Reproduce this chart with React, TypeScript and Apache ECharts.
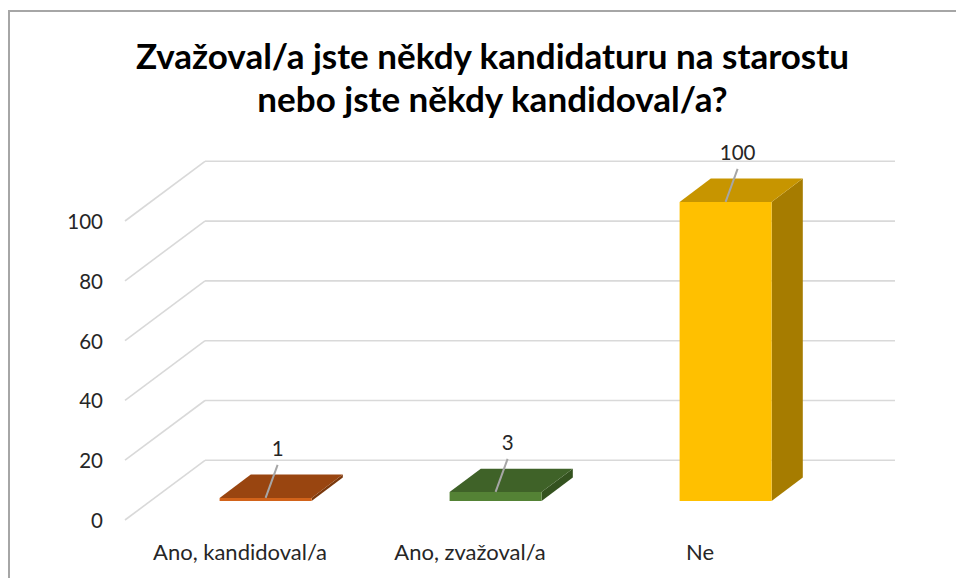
import React, { useEffect, useRef } from "react";
import * as echarts from "echarts";

const titleLines = ["Zvažoval/a jste někdy kandidaturu na starostu", "nebo jste někdy kandidoval/a?"];
const categories = ["Ano, kandidoval/a", "Ano, zvažoval/a", "Ne"];
const values = [1, 3, 100];
const yTicks = [0, 20, 40, 60, 80, 100];

// face colours per category: front, top, side
const palette = [
  { front: "#D2631A", top: "#994510", side: "#7A380C" },
  { front: "#548235", top: "#3F6228", side: "#34521F" },
  { front: "#FFC000", top: "#C79500", side: "#A67C00" },
];

const DEPTH_X = 80;
const DEPTH_Y = -59.7;
const FRONT_T = 0.32;
const BAR_T = 0.39;
const FONT = "Lato, 'Open Sans', sans-serif";

export default function App() {
  const ref = useRef<HTMLDivElement>(null);
  useEffect(() => {
    if (!ref.current) return;
    const chart = echarts.init(ref.current, undefined, { renderer: "svg" });

    const gridData = yTicks.map((v) => [0, v]);
    const barData = values.map((v, i) => [i, v]);

    const option: any = {
      animation: false,
      backgroundColor: "#ffffff",
      graphic: [
        {
          type: "rect",
          shape: { x: 9, y: 11, width: 1000, height: 620 },
          style: { fill: "none", stroke: "#A6A6A6", lineWidth: 2 },
          silent: true,
        },
        {
          type: "text",
          x: 492.5,
          y: 33,
          style: {
            text: titleLines.join("\n"),
            font: `bold 35px ${FONT}`,
            lineHeight: 43,
            fill: "#000000",
            align: "center",
            verticalAlign: "top",
          },
        },
      ],
      grid: { left: 125, right: 141, top: 221, bottom: 58 },
      xAxis: {
        type: "category",
        data: categories,
        axisLine: { show: false },
        axisTick: { show: false },
        axisLabel: {
          interval: 0,
          hideOverlap: false,
          fontSize: 22,
          color: "#262626",
          margin: 20,
          fontFamily: FONT,
        },
        splitLine: { show: false },
      },
      yAxis: {
        type: "value",
        min: 0,
        max: 100,
        interval: 20,
        axisLine: { show: false },
        axisTick: { show: false },
        axisLabel: { fontSize: 20.5, color: "#262626", margin: 22, fontFamily: FONT },
        splitLine: { show: false },
      },
      series: [
        {
          type: "custom",
          silent: true,
          z: 1,
          data: gridData,
          renderItem: (params: any, api: any) => {
            const v = api.value(1);
            const cs = params.coordSys;
            const y = api.coord([0, v])[1];
            const x0 = cs.x;
            const bx = x0 + DEPTH_X;
            const by = y + DEPTH_Y;
            return {
              type: "group",
              children: [
                {
                  type: "line",
                  shape: { x1: x0, y1: y, x2: bx, y2: by },
                  style: { stroke: "#D9D9D9", lineWidth: 1.6 },
                },
                {
                  type: "line",
                  shape: { x1: bx, y1: by, x2: bx + cs.width, y2: by },
                  style: { stroke: "#D9D9D9", lineWidth: 1.6 },
                },
              ],
            };
          },
        },
        {
          type: "custom",
          z: 2,
          data: barData,
          renderItem: (params: any, api: any) => {
            const i = api.value(0);
            const v = api.value(1);
            const c = palette[i];
            const base = api.coord([i, 0]);
            const topP = api.coord([i, v]);
            const band = api.size([1, 0])[0];
            const w = band * 0.4;
            const ox = FRONT_T * DEPTH_X;
            const oy = FRONT_T * DEPTH_Y;
            const x0 = base[0] - w / 2 + ox;
            const x1 = x0 + w;
            const yb = base[1] + oy;
            const yt = topP[1] + oy;
            const dx = BAR_T * DEPTH_X;
            const dy = BAR_T * DEPTH_Y;
            const cx = (x0 + x1) / 2;
            const lx = cx + 12;
            const ly = yt - 50;
            return {
              type: "group",
              children: [
                {
                  type: "polygon",
                  shape: { points: [[x1, yt], [x1 + dx, yt + dy], [x1 + dx, yb + dy], [x1, yb]] },
                  style: { fill: c.side },
                },
                {
                  type: "polygon",
                  shape: { points: [[x0, yt], [x0 + dx, yt + dy], [x1 + dx, yt + dy], [x1, yt]] },
                  style: { fill: c.top },
                },
                {
                  type: "polygon",
                  shape: { points: [[x0, yt], [x1, yt], [x1, yb], [x0, yb]] },
                  style: { fill: c.front },
                },
                {
                  type: "line",
                  shape: { x1: lx, y1: ly + 17, x2: cx, y2: yt },
                  style: { stroke: "#A6A6A6", lineWidth: 2 },
                },
                {
                  type: "text",
                  x: lx,
                  y: ly,
                  style: {
                    text: String(v),
                    font: `20.5px ${FONT}`,
                    fill: "#262626",
                    align: "center",
                    verticalAlign: "middle",
                  },
                },
              ],
            };
          },
        },
      ],
    };

    chart.setOption(option);
    return () => chart.dispose();
  }, []);

  return (
    <div
      ref={ref}
      style={{ position: "absolute", left: 0, top: 0, width: 956, height: 578 }}
    />
  );
}
